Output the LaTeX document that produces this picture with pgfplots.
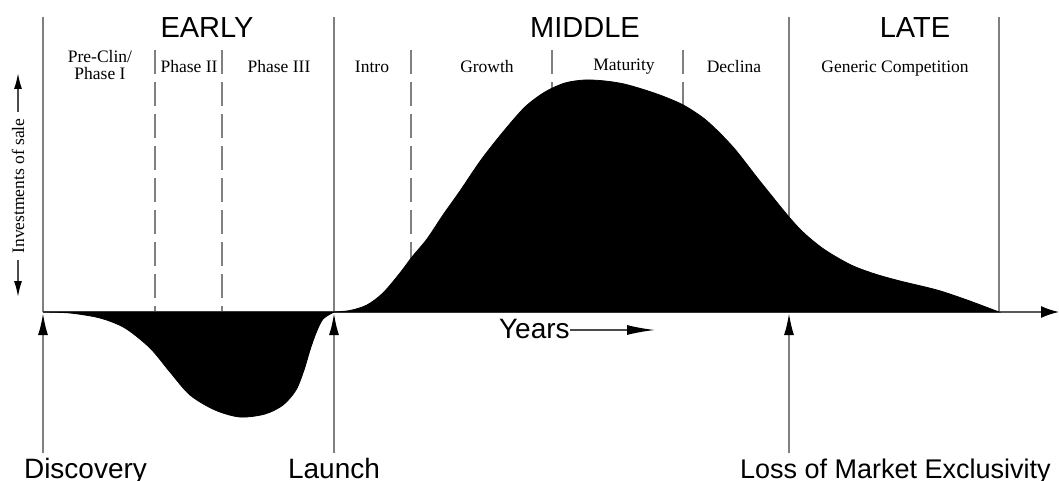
\documentclass[border=0pt]{standalone}
\usepackage{pgfplots}
\pgfplotsset{compat=1.18}
\usepackage{fontspec}
\setmainfont{Liberation Serif}
\newfontfamily\arial{Liberation Sans}
\usetikzlibrary{arrows.meta}
\definecolor{linegray}{HTML}{808080}
\definecolor{txt}{HTML}{1E1E1E}
\begin{document}
\begin{tikzpicture}
\path[use as bounding box] (0,0) rectangle (529.5pt,240.5pt);
\begin{axis}[
  at={(0,0)}, anchor=south west,
  scale only axis, width=529.5pt, height=240.5pt,
  xmin=0, xmax=1059, ymin=0, ymax=481, y dir=reverse,
  axis lines=none, clip=false,
  every node/.style={inner sep=0pt, text=txt},
]
% solid vertical lines
\addplot[linegray, line width=1pt] coordinates {(43,17) (43,312)};
\addplot[linegray, line width=1pt] coordinates {(334,17) (334,312)};
\addplot[linegray, line width=1pt] coordinates {(789,17) (789,312)};
\addplot[linegray, line width=1pt] coordinates {(999,17) (999,312)};
% dashed lines
\addplot[linegray, line width=1pt, dash pattern=on 12pt off 4pt] coordinates {(155,50) (155,312)};
\addplot[linegray, line width=1pt, dash pattern=on 12pt off 4pt] coordinates {(222,50) (222,312)};
\addplot[linegray, line width=1pt, dash pattern=on 12pt off 4pt] coordinates {(411,50) (411,312)};
\addplot[linegray, line width=1pt, dash pattern=on 12pt off 4pt] coordinates {(552,50) (552,312)};
\addplot[linegray, line width=1pt, dash pattern=on 12pt off 4pt] coordinates {(683,50) (683,312)};
% x axis
\addplot[black!65, line width=0.8pt, -{Latex[length=9pt,width=6pt,black]}] coordinates {(43,312) (1059,312)};
% negative lobe
\addplot[black, fill=black, smooth, tension=0.5] coordinates {
 (43,312) (70,313) (100,318) (125,328) (150,348) (170,372) (190,395) (215,410)
 (240,417) (265,414) (283,405) (296,390) (304,370) (310,350) (316,333) (323,319) (334,312)
} -- cycle;
% positive lobe
\addplot[black, fill=black, smooth, tension=0.5] coordinates {
 (334,312) (350,310.5) (367,305) (383,293) (400,273) (412,257) (427,239) (443,215)
 (460,191) (481,160) (503,132) (525,107) (545,92) (565,83) (585,80) (605,81)
 (624,84) (645,90) (665,97) (685,106) (707,121) (733,147) (759,180) (789,217)
 (805,234) (825,250) (851,265) (875,274) (900,281) (937,290) (967,300) (999,312)
} -- cycle;
% bottom arrows
\addplot[linegray, line width=1pt, -{Latex[length=11pt,width=5pt,black]}] coordinates {(43,453) (43,313)};
\addplot[linegray, line width=1pt, -{Latex[length=11pt,width=5pt,black]}] coordinates {(334,453) (334,313)};
\addplot[linegray, line width=1pt, -{Latex[length=11pt,width=5pt,black]}] coordinates {(789,453) (789,313)};
% years arrow
\addplot[black!70, line width=0.8pt, -{Latex[length=14pt,width=5pt,black]}] coordinates {(570,330) (655,330)};
% y label arrows
\addplot[black!70, line width=0.8pt, -{Latex[length=8pt,width=4pt,black]}] coordinates {(18,112) (18,73)};
\addplot[black!70, line width=0.8pt, -{Latex[length=8pt,width=4pt,black]}] coordinates {(18,260) (18,297)};
% titles
\node[anchor=base, font=\arial\fontsize{14.5}{16}\selectfont] at (axis cs:207,38) {EARLY};
\node[anchor=base, font=\arial\fontsize{14.5}{16}\selectfont] at (axis cs:585,38) {MIDDLE};
\node[anchor=base, font=\arial\fontsize{14.5}{16}\selectfont] at (axis cs:915,38) {LATE};
% phase labels
\node[anchor=base, font=\fontsize{8.75}{10}\selectfont] at (axis cs:100,63) {Pre-Clin/};
\node[anchor=base, font=\fontsize{8.75}{10}\selectfont] at (axis cs:100,80) {Phase I};
\node[anchor=base, font=\fontsize{8.75}{10}\selectfont] at (axis cs:189,73) {Phase II};
\node[anchor=base, font=\fontsize{8.75}{10}\selectfont] at (axis cs:279,73) {Phase III};
\node[anchor=base, font=\fontsize{8.75}{10}\selectfont] at (axis cs:372,73) {Intro};
\node[anchor=base, font=\fontsize{8.75}{10}\selectfont] at (axis cs:487,73) {Growth};
\node[anchor=base, font=\fontsize{8.75}{10}\selectfont] at (axis cs:624,71) {Maturity};
\node[anchor=base, font=\fontsize{8.75}{10}\selectfont] at (axis cs:734,73) {Declina};
\node[anchor=base, font=\fontsize{8.75}{10}\selectfont] at (axis cs:895,73) {Generic Competition};
% y label
\node[rotate=90, font=\fontsize{8.75}{10}\selectfont] at (axis cs:18,186) {Investments of sale};
% years
\node[anchor=base west, font=\arial\fontsize{14}{16}\selectfont] at (axis cs:492,338) {Years};
% bottom labels
\node[anchor=base west, font=\arial\fontsize{14}{16}\selectfont] at (axis cs:17,478) {Discovery};
\node[anchor=base, font=\arial\fontsize{14}{16}\selectfont] at (axis cs:334,478) {Launch};
\node[anchor=base west, font=\arial\fontsize{13.5}{16}\selectfont] at (axis cs:733,478) {Loss of Market Exclusivity};
\end{axis}
\end{tikzpicture}
\end{document}
